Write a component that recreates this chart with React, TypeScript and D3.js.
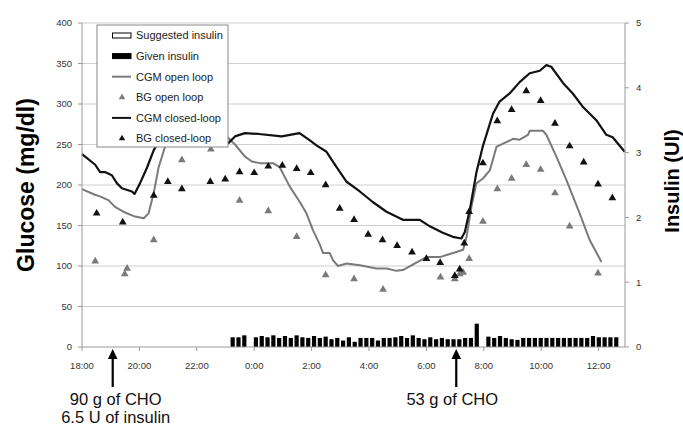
import { useRef, useEffect } from 'react';
import * as d3 from 'd3';

// time is in clock hours, values after midnight continue past 24
const timeTicks = [18, 20, 22, 24, 26, 28, 30, 32, 34, 36];
const timeTickLabels = ['18:00', '20:00', '22:00', '0:00', '2:00', '4:00', '6:00', '8:00', '10:00', '12:00'];
const glucoseTicks = [0, 50, 100, 150, 200, 250, 300, 350, 400];
const insulinTicks = [0, 1, 2, 3, 4, 5];

const cgmClosed = [
  [18.0, 238], [18.46, 225], [18.63, 216], [18.8, 216], [19.04, 212], [19.22, 202], [19.39, 196],
  [19.74, 192], [19.83, 189], [20.02, 202], [20.26, 221], [20.5, 243], [20.75, 258], [21.0, 266],
  [21.5, 268], [22.0, 262], [22.5, 256], [23.11, 252], [23.33, 260], [23.68, 264], [24.16, 263],
  [24.96, 260], [25.58, 264], [25.94, 255], [26.17, 249], [26.52, 241], [26.87, 222], [27.22, 204],
  [27.68, 192], [28.13, 179], [28.61, 167], [29.18, 157], [29.77, 157], [30.12, 149], [30.57, 141],
  [30.92, 136], [31.22, 134], [31.34, 142], [31.51, 169], [31.74, 215], [31.96, 247], [32.32, 288],
  [32.55, 303], [32.9, 313], [33.25, 327], [33.6, 338], [33.95, 341], [34.18, 348], [34.35, 346],
  [34.76, 326], [35.1, 313], [35.44, 297], [35.92, 280], [36.27, 262], [36.49, 259], [36.91, 241],
];

const cgmOpen = [
  [18.0, 195], [18.45, 188], [18.63, 186], [18.93, 181], [19.15, 173], [19.5, 166], [19.85, 161],
  [20.15, 159], [20.32, 165], [20.5, 190], [20.67, 222], [20.89, 247], [21.2, 262], [21.7, 270],
  [22.3, 268], [22.8, 262], [23.1, 258], [23.33, 250], [23.68, 235], [23.92, 229], [24.2, 227],
  [24.65, 227], [24.89, 222], [25.24, 198], [25.59, 179], [25.82, 165], [26.05, 144], [26.29, 126],
  [26.4, 116], [26.63, 116], [26.75, 107], [26.92, 100], [27.22, 103], [27.68, 101], [28.26, 97],
  [28.61, 97], [28.96, 94], [29.18, 95], [29.54, 102], [30.0, 111], [30.47, 111], [30.93, 116],
  [31.28, 120], [31.4, 136], [31.57, 173], [31.74, 202], [31.97, 208], [32.21, 218], [32.44, 247],
  [32.67, 251], [33.02, 257], [33.25, 256], [33.54, 262], [33.6, 267], [34.06, 267], [34.18, 262],
  [34.53, 235], [34.88, 206], [35.34, 165], [35.69, 132], [36.1, 105],
];

const bgClosed = [
  [18.51, 165], [19.42, 154], [20.5, 187], [20.99, 204], [21.48, 195], [22.47, 204], [22.99, 207],
  [23.49, 216], [24.0, 215], [24.49, 223], [24.98, 224], [25.48, 220], [25.97, 215], [26.49, 200],
  [26.98, 171], [27.48, 157], [27.97, 139], [28.47, 132], [28.98, 125], [29.5, 117], [30.0, 109],
  [30.48, 104], [30.99, 88], [31.16, 96], [31.32, 128], [31.49, 167], [31.97, 227], [32.47, 279],
  [32.97, 293], [33.48, 316], [33.98, 304], [34.48, 276], [34.99, 248], [35.48, 228], [35.98, 201],
  [36.48, 184],
];

const bgOpen = [
  [18.46, 106], [19.49, 90], [19.57, 97], [20.5, 132], [21.48, 231], [22.49, 244], [23.49, 181],
  [24.49, 168], [25.48, 136], [26.49, 89], [27.48, 84], [28.49, 71], [30.49, 86], [30.99, 84],
  [31.16, 90], [31.28, 92], [31.49, 109], [31.97, 155], [32.47, 195], [32.97, 208], [33.48, 225],
  [33.98, 219], [34.48, 190], [34.99, 149], [35.98, 91],
];

// given insulin (U) every 12 min from 23:15
const insulinStart = 23.25;
const insulinStep = 0.2025;
const insulinGiven = [
  0.15, 0.15, 0.18, 0, 0.15, 0.17, 0.15, 0.18, 0.14, 0.17, 0.14, 0.18, 0.15, 0.14, 0.17, 0.14,
  0.16, 0.12, 0.14, 0.1, 0.15, 0.08, 0.14, 0.14, 0.14, 0.1, 0.14, 0.14, 0.15, 0.17, 0.14, 0.18,
  0.14, 0.12, 0.15, 0.12, 0.14, 0.12, 0.12, 0.12, 0.14, 0.14, 0.36, 0, 0.16, 0.14, 0.17, 0.14,
  0.12, 0.11, 0.14, 0.14, 0.14, 0.14, 0.14, 0.14, 0.14, 0.14, 0.14, 0.14, 0.14, 0.14, 0.17, 0.15,
  0.15, 0.15, 0.15,
];

const meals = [
  { time: 19.07, lines: ['90 g of CHO', '6.5 U of insulin'], dx: 3 },
  { time: 31.04, lines: ['53 g of CHO'], dx: -4 },
];

const legendItems = [
  { label: 'Suggested insulin', kind: 'box', color: '#fff' },
  { label: 'Given insulin', kind: 'box', color: '#000' },
  { label: 'CGM open loop', kind: 'line', color: '#7a7a7a' },
  { label: 'BG open loop', kind: 'tri', color: '#7a7a7a' },
  { label: 'CGM closed-loop', kind: 'line', color: '#111' },
  { label: 'BG closed-loop', kind: 'tri', color: '#111' },
];

const FONT = '"Liberation Sans", Arial, Helvetica, sans-serif';

const useD3 = (renderFn, deps) => {
  const ref = useRef(null);
  useEffect(() => {
    renderFn(d3.select(ref.current));
  }, deps);
  return ref;
};

const GlucoseChart = () => {
  const ref = useD3((svg) => {
    svg.selectAll('*').remove();
    const left = 82, right = 625, top = 23, bottom = 347;

    const x = d3.scaleLinear().domain([18, 36.92]).range([left, right]);
    const yG = d3.scaleLinear().domain([0, 400]).range([bottom, top]);
    const yI = d3.scaleLinear().domain([0, 5]).range([bottom, top]);

    // grid
    svg.append('g')
      .selectAll('line')
      .data(glucoseTicks.filter((d) => d > 0))
      .join('line')
      .attr('x1', left).attr('x2', right)
      .attr('y1', (d) => yG(d)).attr('y2', (d) => yG(d))
      .attr('stroke', '#cfcfcf').attr('stroke-width', 1);

    // insulin bars
    const barW = 4.2;
    svg.append('g')
      .selectAll('rect')
      .data(insulinGiven.map((v, i) => ({ t: insulinStart + i * insulinStep, v })).filter((d) => d.v > 0))
      .join('rect')
      .attr('x', (d) => x(d.t) - barW / 2)
      .attr('width', barW)
      .attr('y', (d) => yI(d.v))
      .attr('height', (d) => yI(0) - yI(d.v))
      .attr('fill', '#000');

    const line = d3.line().x((d) => x(d[0])).y((d) => yG(d[1]));

    svg.append('path').datum(cgmOpen)
      .attr('fill', 'none').attr('stroke', '#7a7a7a').attr('stroke-width', 2)
      .attr('stroke-linejoin', 'round').attr('d', line);
    svg.append('path').datum(cgmClosed)
      .attr('fill', 'none').attr('stroke', '#111').attr('stroke-width', 2.2)
      .attr('stroke-linejoin', 'round').attr('d', line);

    const tri = d3.symbol(d3.symbolTriangle).size(26);
    svg.append('g')
      .selectAll('path')
      .data(bgOpen)
      .join('path')
      .attr('transform', (d) => `translate(${x(d[0])},${yG(d[1])})`)
      .attr('d', tri)
      .attr('fill', '#7a7a7a');
    svg.append('g')
      .selectAll('path')
      .data(bgClosed)
      .join('path')
      .attr('transform', (d) => `translate(${x(d[0])},${yG(d[1])})`)
      .attr('d', tri)
      .attr('fill', '#111');

    // axes
    const axisColor = '#9a9a9a';
    const labelStyle = (g) => g.attr('font-family', FONT).attr('font-size', 9.5).attr('fill', '#333');

    const la = svg.append('g');
    la.append('line').attr('x1', left).attr('x2', left).attr('y1', top).attr('y2', bottom).attr('stroke', axisColor);
    la.selectAll('.t').data(glucoseTicks).join('line').attr('class', 't')
      .attr('x1', left - 4).attr('x2', left).attr('y1', (d) => yG(d)).attr('y2', (d) => yG(d))
      .attr('stroke', axisColor);
    la.selectAll('text').data(glucoseTicks).join('text')
      .attr('x', left - 10).attr('y', (d) => yG(d)).attr('dy', '0.35em')
      .attr('text-anchor', 'end').text((d) => d).call(labelStyle);

    const ra = svg.append('g');
    ra.append('line').attr('x1', right).attr('x2', right).attr('y1', top).attr('y2', bottom).attr('stroke', axisColor);
    ra.selectAll('.t').data(insulinTicks).join('line').attr('class', 't')
      .attr('x1', right).attr('x2', right + 4).attr('y1', (d) => yI(d)).attr('y2', (d) => yI(d))
      .attr('stroke', axisColor);
    ra.selectAll('text').data(insulinTicks).join('text')
      .attr('x', right + 11).attr('y', (d) => yI(d)).attr('dy', '0.35em')
      .attr('text-anchor', 'start').text((d) => d).call(labelStyle);

    const ba = svg.append('g');
    ba.append('line').attr('x1', left).attr('x2', right).attr('y1', bottom).attr('y2', bottom).attr('stroke', axisColor);
    ba.selectAll('.t').data(timeTicks).join('line').attr('class', 't')
      .attr('x1', (d) => x(d)).attr('x2', (d) => x(d)).attr('y1', bottom).attr('y2', bottom + 4)
      .attr('stroke', axisColor);
    ba.selectAll('text').data(timeTicks).join('text')
      .attr('x', (d) => x(d)).attr('y', 366).attr('dy', '0.35em')
      .attr('text-anchor', 'middle').text((d, i) => timeTickLabels[i]).call(labelStyle);

    // axis titles
    svg.append('text')
      .attr('transform', 'translate(34,185) rotate(-90)')
      .attr('text-anchor', 'middle').attr('font-family', FONT)
      .attr('font-size', 23).attr('font-weight', 'bold').attr('fill', '#000')
      .text('Glucose (mg/dl)');
    svg.append('text')
      .attr('transform', 'translate(679,181) rotate(-90)')
      .attr('text-anchor', 'middle').attr('font-family', FONT)
      .attr('font-size', 20).attr('font-weight', 'bold').attr('fill', '#000')
      .text('Insulin (Ul)');

    // legend
    const lg = svg.append('g');
    lg.append('rect').attr('x', 97).attr('y', 25).attr('width', 131).attr('height', 122)
      .attr('fill', '#fff').attr('stroke', '#8a8a8a').attr('stroke-width', 1);
    legendItems.forEach((it, i) => {
      const cy = 35.5 + i * 20.6;
      if (it.kind === 'box') {
        lg.append('rect').attr('x', 112.5).attr('y', cy - 2.5).attr('width', 18.5).attr('height', 5)
          .attr('fill', it.color).attr('stroke', '#000').attr('stroke-width', 1);
      } else if (it.kind === 'line') {
        lg.append('line').attr('x1', 112).attr('x2', 131).attr('y1', cy).attr('y2', cy)
          .attr('stroke', it.color).attr('stroke-width', 2);
      } else {
        lg.append('path').attr('transform', `translate(122,${cy})`)
          .attr('d', d3.symbol(d3.symbolTriangle).size(18)).attr('fill', it.color);
      }
      lg.append('text').attr('x', 136).attr('y', cy).attr('dy', '0.35em')
        .attr('font-family', FONT).attr('font-size', 11).attr('fill', '#222')
        .text(it.label);
    });

    // meal annotations
    meals.forEach((m) => {
      const ax = x(m.time);
      const g = svg.append('g');
      g.append('line').attr('x1', ax).attr('x2', ax).attr('y1', 356).attr('y2', 387)
        .attr('stroke', '#000').attr('stroke-width', 2.2);
      g.append('path')
        .attr('d', `M${ax},349L${ax - 4.8},359L${ax + 4.8},359Z`)
        .attr('fill', '#000');
      m.lines.forEach((t, i) => {
        g.append('text').attr('x', ax + m.dx).attr('y', 405 + i * 18)
          .attr('text-anchor', 'middle').attr('font-family', FONT)
          .attr('font-size', 16.5).attr('fill', '#111')
          .text(t);
      });
    });
  }, []);

  return (
    <svg
      ref={ref}
      width={683}
      height={428}
      style={{ position: 'absolute', left: 0, top: 0, background: '#fff' }}
    />
  );
};

export default function App() {
  return <GlucoseChart />;
}
